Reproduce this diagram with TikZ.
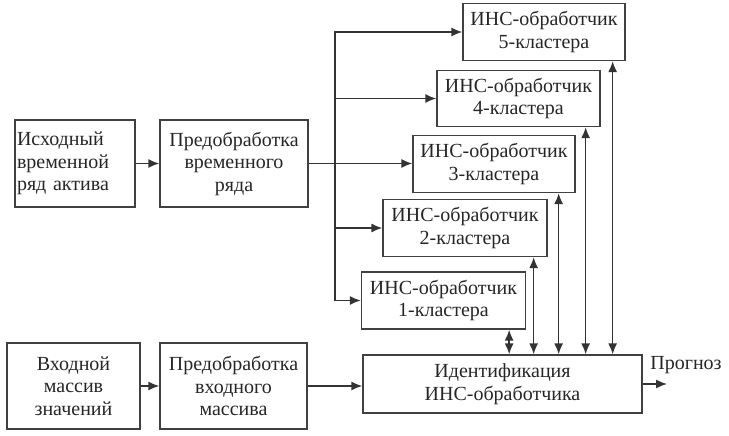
\documentclass[tikz,border=0pt]{standalone}
\usepackage{fontspec}
\setmainfont{Liberation Serif}
\usetikzlibrary{arrows.meta}

\begin{document}
\begin{tikzpicture}[x=1pt,y=-1pt,
  every node/.style={font=\fontsize{20}{22.5}\selectfont,text=black!85},
  blok/.style={draw=black!75,line width=1.3pt,inner sep=2pt,align=center},
  svyaz/.style={-{Latex[length=11pt,width=9pt]},line width=1.5pt,draw=black!80},
  dvsvyaz/.style={{Latex[length=11pt,width=9pt]}-{Latex[length=11pt,width=9pt]},line width=1.5pt,draw=black!80}]
\useasboundingbox (0,0) rectangle (729,436);
% verkhnyaya vetv
\node[blok,text width=116pt,align=left,minimum height=87pt] (src) at (75,163.5) {Исходный\\временной\\ряд актива};
\node[blok,minimum width=148pt,minimum height=87pt] (pre1) at (234,163.5) {Предобработка\\временного\\ряда};
\node[blok,minimum width=162pt,minimum height=57pt] (c5) at (544,32) {ИНС-обработчик\\5-кластера};
\node[blok,minimum width=163pt,minimum height=56pt] (c4) at (518.5,98.5) {ИНС-обработчик\\4-кластера};
\node[blok,minimum width=162pt,minimum height=57pt] (c3) at (494,164) {ИНС-обработчик\\3-кластера};
\node[blok,minimum width=164pt,minimum height=57pt] (c2) at (465,228) {ИНС-обработчик\\2-кластера};
\node[blok,minimum width=164pt,minimum height=57pt] (c1) at (443.5,300.5) {ИНС-обработчик\\1-кластера};
% nizhnyaya vetv
\node[blok,minimum width=133pt,minimum height=86pt] (inp) at (73.5,386) {Входной\\массив\\значений};
\node[blok,minimum width=147pt,minimum height=86pt] (pre2) at (233.5,386) {Предобработка\\входного\\массива};
\node[blok,minimum width=279pt,minimum height=58pt] (id) at (502.5,384) {Идентификация\\ИНС-обработчика};
\node (prog) at (686,365) {Прогноз};
\coordinate (br) at (335,163.5);
\coordinate (out) at (667,384);

\draw[svyaz] (src) -- (pre1);
\draw[svyaz] (pre1.east) -- (pre1.east -| c3.west);
\draw[svyaz] (br) |- (c5);
\draw[svyaz] (br) |- (c1);
\draw[svyaz] (br |- c4) -- (c4);
\draw[svyaz] (br |- c2) -- (c2);
\foreach \k/\dx in {1/17,2/14,3/17,4/15,5/13}
  \draw[dvsvyaz] ([xshift=-\dx pt]c\k.south east) -- ([xshift=-\dx pt]c\k.south east |- id.north);
\draw[svyaz] (inp) -- (pre2);
\draw[svyaz] (pre2.east) -- (pre2.east -| id.west);
\draw[svyaz] (id.east) -- (out);
\end{tikzpicture}
\end{document}
